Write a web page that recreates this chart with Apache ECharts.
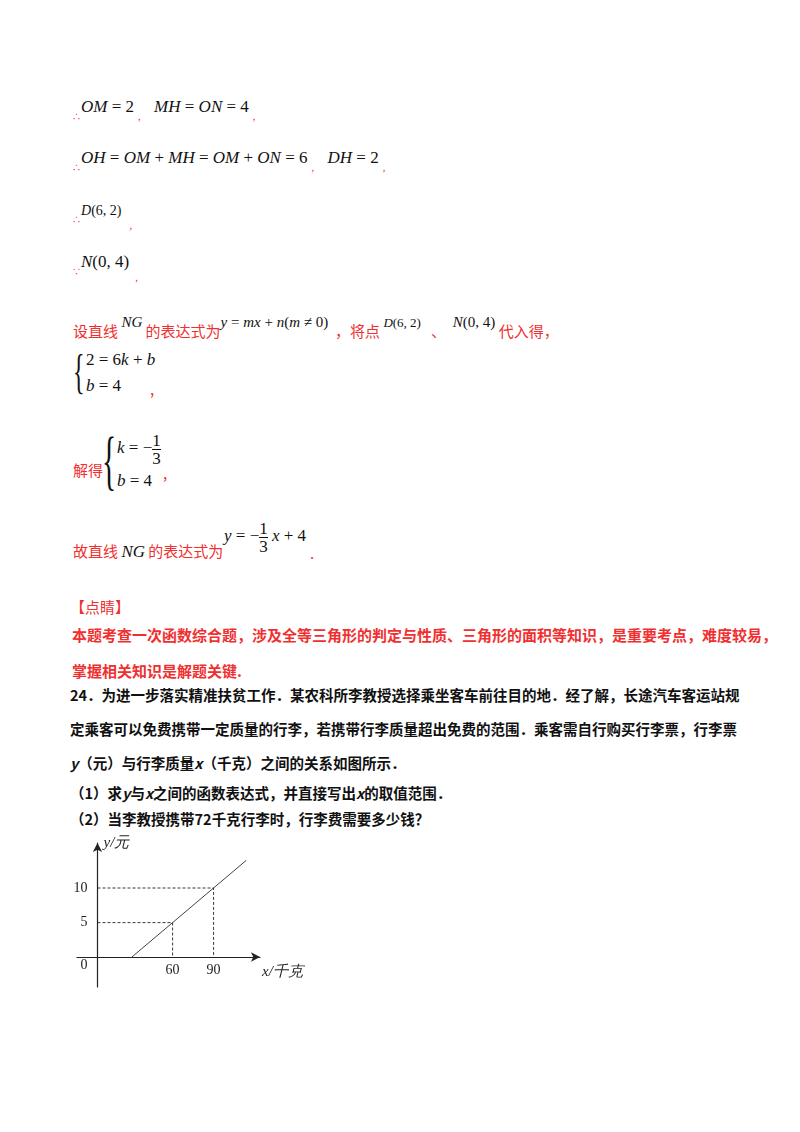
<!DOCTYPE html>
<html><head><meta charset="utf-8">
<script src="https://cdn.jsdelivr.net/npm/echarts@6/dist/echarts.min.js"></script>
<style>
body{margin:0;background:#fff;width:800px;height:1132px;position:relative;overflow:hidden;font-family:"Noto Sans CJK SC",sans-serif}
.l{position:absolute;white-space:nowrap;font-size:15px}
.r{color:#f03030}
.m{font-family:"Liberation Serif",serif;font-style:italic;color:#111;font-size:17px}
.n{font-style:normal}
.s{font-size:15px;vertical-align:10px}
.c{font-size:9px;color:#f03030;vertical-align:-8px}
.b{color:#111;font-weight:bold;font-size:14.5px}
.frac{display:inline-block;vertical-align:middle;text-align:center;font-style:normal;line-height:17px}
.frac span{display:block}
.frac .t{border-bottom:1px solid #111}
#chart{position:absolute;left:60px;top:830px;width:260px;height:170px}
</style></head><body>

<div class="l" style="left:72px;top:95px"><span class="c">∴</span><span class="m">OM <span class="n">= 2</span></span><span class="c">&nbsp;&nbsp;,</span>&nbsp;&nbsp;&nbsp;&nbsp;<span class="m">MH <span class="n">=</span> ON <span class="n">= 4</span></span><span class="c">&nbsp;&nbsp;,</span></div>
<div class="l" style="left:72px;top:146px"><span class="c">∴</span><span class="m">OH <span class="n">=</span> OM <span class="n">+</span> MH <span class="n">=</span> OM <span class="n">+</span> ON <span class="n">= 6</span></span><span class="c">&nbsp;&nbsp;,</span>&nbsp;&nbsp;&nbsp;&nbsp;<span class="m">DH <span class="n">= 2</span></span><span class="c">&nbsp;&nbsp;,</span></div>
<div class="l" style="left:72px;top:198px"><span class="c">∴</span><span class="m" style="font-size:14px">D<span class="n">(6, 2)</span></span><span class="c" style="vertical-align:-14px">&nbsp;&nbsp;&nbsp;&nbsp;,</span></div>
<div class="l" style="left:72px;top:250px"><span class="c">∵</span><span class="m">N<span class="n">(0, 4)</span></span><span class="c" style="vertical-align:-14px">&nbsp;&nbsp;&nbsp;,</span></div>

<div class="l r" style="left:73px;top:314px">设直线 <span class="m s">NG</span> 的表达式为<span class="m s">y <span class="n">=</span> mx <span class="n">+</span> n<span class="n">(</span>m <span class="n">≠ 0)</span></span>&nbsp;&nbsp;，将点 <span class="m s" style="font-size:13px">D<span class="n">(6, 2)</span></span>&nbsp;&nbsp;&nbsp;、&nbsp;&nbsp;<span class="m s">N<span class="n">(0, 4)</span></span>&nbsp;代入得，</div>

<div class="l" style="left:73px;top:345px;font-size:48px;font-family:'Liberation Serif';color:#111;line-height:54px;transform:scaleX(0.5);transform-origin:left">{</div>
<div class="l m" style="left:86px;top:350px"><span class="n">2 = 6</span>k <span class="n">+</span> b</div>
<div class="l m" style="left:86px;top:376px">b <span class="n">= 4</span></div>
<div class="l r" style="left:150px;top:378px">,</div>

<div class="l r" style="left:73px;top:459px">解得</div>
<div class="l" style="left:102px;top:424px;font-size:66px;font-family:'Liberation Serif';color:#111;line-height:72px;transform:scaleX(0.45);transform-origin:left">{</div>
<div class="l m" style="left:117px;top:432px">k <span class="n">= −</span><span class="frac"><span class="t">1</span><span>3</span></span></div>
<div class="l m" style="left:117px;top:471px">b <span class="n">= 4</span></div>
<div class="l r" style="left:163px;top:462px">,</div>

<div class="l r" style="left:73px;top:540px">故直线 <span class="m" style="font-size:17px">NG</span> 的表达式为</div>
<div class="l m" style="left:224px;top:520px">y <span class="n">= −</span><span class="frac"><span class="t">1</span><span>3</span></span> x <span class="n">+ 4</span></div>
<div class="l r" style="left:310px;top:542px">.</div>

<div class="l r" style="left:70px;top:596px">【点睛】</div>
<div class="l r" style="left:72px;top:624px;font-weight:bold">本题考查一次函数综合题，涉及全等三角形的判定与性质、三角形的面积等知识，是重要考点，难度较易，</div>
<div class="l r" style="left:72px;top:660px;font-weight:bold">掌握相关知识是解题关键.</div>
<div class="l b" style="left:70px;top:684px">24．为进一步落实精准扶贫工作．某农科所李教授选择乘坐客车前往目的地．经了解，长途汽车客运站规</div>
<div class="l b" style="left:70px;top:718px">定乘客可以免费携带一定质量的行李，若携带行李质量超出免费的范围．乘客需自行购买行李票，行李票</div>
<div class="l b" style="left:70px;top:752px"><i>y</i>（元）与行李质量<i>x</i>（千克）之间的关系如图所示．</div>
<div class="l b" style="left:70px;top:782px">（1）求<i>y</i>与<i>x</i>之间的函数表达式，并直接写出<i>x</i>的取值范围．</div>
<div class="l b" style="left:70px;top:808px">（2）当李教授携带72千克行李时，行李费需要多少钱？</div>

<div id="chart"></div>
<script>
// line y = x/6 - 5
var lineX = [30, 114];
var lineY = [0, 14];
var markX = [60, 90];
var markY = [5, 10];
var yLabels = [0, 5, 10];
var xLabels = [60, 90];
var originX = 5;

var chart = echarts.init(document.getElementById('chart'));
var serif = '"Liberation Serif", serif';

var dashSeries = markX.map(function (x, i) {
  return {
    type: 'line', symbol: 'none', silent: true,
    data: [[originX, markY[i]], [x, markY[i]], [x, 0]],
    lineStyle: { color: '#222', width: 0.9, type: [3, 2] }
  };
});

chart.setOption({
  animation: false,
  grid: { left: 17, top: 13, width: 183, height: 144 },
  xAxis: {
    type: 'value', min: -10, max: 124, position: 'bottom', offset: -30,
    name: 'x/千克', nameLocation: 'end', nameGap: 2,
    nameTextStyle: { fontFamily: serif, fontSize: 15, color: '#222', fontStyle: 'italic', verticalAlign: 'top', padding: [8, 0, 0, 0] },
    axisLine: { onZero: false, symbol: ['none', 'arrow'], symbolSize: [7, 9], lineStyle: { color: '#222', width: 1.2 } },
    axisTick: { show: false },
    splitLine: { show: false },
    axisLabel: { customValues: xLabels, fontFamily: serif, fontSize: 14, color: '#222', margin: 6 }
  },
  yAxis: {
    type: 'value', min: -4.3, max: 16.5, offset: -20.5,
    name: 'y/元', nameLocation: 'end', nameGap: -8,
    nameTextStyle: { fontFamily: serif, fontSize: 15, color: '#222', fontStyle: 'italic', align: 'left', padding: [0, 0, 0, 6] },
    axisLine: { onZero: false, symbol: ['none', 'arrow'], symbolSize: [7, 9], lineStyle: { color: '#222', width: 1.2 } },
    axisTick: { show: false },
    splitLine: { show: false },
    axisLabel: {
      customValues: yLabels, fontFamily: serif, fontSize: 14, color: '#222', margin: 10,
      formatter: function (v) { return v === 0 ? '{z|0}' : String(v); },
      rich: { z: { fontFamily: serif, fontSize: 14, color: '#222', padding: [16, 0, 0, 0] } }
    }
  },
  series: [{
    type: 'line', symbol: 'none', silent: true,
    data: lineX.map(function (x, i) { return [x, lineY[i]]; }),
    lineStyle: { color: '#444', width: 1 }
  }].concat(dashSeries)
});
</script>
</body></html>
